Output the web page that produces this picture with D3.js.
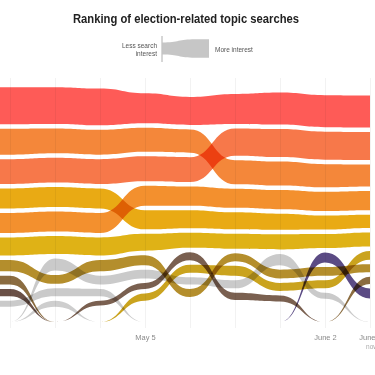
<!DOCTYPE html>
<html>
<head>
<meta charset="utf-8">
<script src="https://cdnjs.cloudflare.com/ajax/libs/d3/7.8.5/d3.min.js"></script>
<style>
  body { margin: 0; background: #fff; }
  svg { display: block; font-family: "Liberation Sans Narrow", "Liberation Sans", sans-serif; }
</style>
</head>
<body>
<div id="chart"></div>
<script>
// weekly snapshots (first one sits left of the visible area)
const weeks = ["2024-04-07", "2024-04-14", "2024-04-21", "2024-04-28", "2024-05-05",
  "2024-05-12", "2024-05-19", "2024-05-26", "2024-06-02", "2024-06-09"];

const topics = ["topic01", "topic02", "topic03", "topic04", "topic05", "topic06",
  "topic07", "topic08", "topic09", "topic10", "topic11", "topic12", "topic13", "topic14", "topic15"];

// rank per week, 0 = outside the top ten
const ranks = [
  [1, 1, 1, 1, 1, 1, 1, 1, 1, 1],
  [2, 2, 2, 2, 2, 2, 3, 3, 3, 3],
  [3, 3, 3, 3, 3, 3, 2, 2, 2, 2],
  [4, 4, 4, 4, 5, 5, 5, 5, 5, 5],
  [5, 5, 5, 5, 4, 4, 4, 4, 4, 4],
  [6, 6, 6, 6, 6, 6, 6, 6, 6, 6],
  [7, 7, 8, 7, 7, 10, 7, 8, 8, 8],
  [8, 8, 0, 0, 0, 0, 0, 0, 0, 9],
  [9, 9, 0, 0, 0, 0, 0, 0, 0, 0],
  [0, 0, 7, 8, 8, 9, 9, 7, 10, 0],
  [10, 10, 9, 9, 0, 0, 0, 0, 0, 0],
  [0, 0, 10, 0, 0, 0, 0, 0, 0, 0],
  [0, 0, 0, 10, 9, 7, 10, 10, 0, 0],
  [0, 0, 0, 0, 10, 8, 8, 9, 9, 7],
  [0, 0, 0, 0, 0, 0, 0, 0, 7, 10]
];

// search interest per week
const interest = [
  [92, 92, 92, 92, 75, 70, 75, 80, 80, 80],
  [65, 65, 62, 62, 60, 58, 60, 60, 58, 55],
  [62, 62, 62, 62, 62, 62, 68, 70, 70, 70],
  [50, 50, 50, 50, 48, 45, 42, 40, 35, 33],
  [50, 50, 50, 50, 50, 48, 48, 48, 48, 48],
  [45, 45, 45, 45, 42, 38, 38, 38, 35, 35],
  [28, 28, 22, 28, 25, 20, 20, 22, 22, 20],
  [22, 22, 0, 0, 0, 0, 0, 0, 0, 18],
  [18, 18, 0, 0, 0, 0, 0, 0, 0, 0],
  [0, 0, 30, 22, 22, 18, 20, 28, 15, 0],
  [15, 15, 20, 18, 0, 0, 0, 0, 0, 0],
  [0, 0, 15, 0, 0, 0, 0, 0, 0, 0],
  [0, 0, 0, 12, 15, 20, 18, 15, 0, 0],
  [0, 0, 0, 0, 18, 20, 25, 20, 20, 22],
  [0, 0, 0, 0, 0, 0, 0, 0, 25, 25]
];

const tickDates = ["2024-05-05", "2024-06-02", "2024-06-09"];
const tickLabels = ["May 5", "June 2", "June 9"];

// legend wedge: thin on the left, thick on the right
const legendInterest = [30, 46, 46];

const colors = ["#fe5b57", "#f4873a", "#f7784a", "#e9aa14", "#f3902e", "#dfb216",
  "#b48e2c", "#8b6c40", "#6a5046", "#cacaca", "#cacaca", "#cecece", "#7a6050", "#caa31e", "#5b4b84"];

const width = 375;
const height = 375;
const gap = 4.5;
const center = 197;
const offY = 322;

const parseTime = d3.timeParse("%Y-%m-%d");
const dates = weeks.map(parseTime);

const svg = d3.select("#chart").append("svg")
  .attr("width", width)
  .attr("height", height);

const x = d3.scaleTime().domain(d3.extent(dates)).range([-35, 370]);
const thick = d3.scaleLinear().domain([0, 100]).range([0, 40]);

// grid lines, one per week
const grid = svg.append("g")
  .attr("transform", "translate(0,328)")
  .call(d3.axisBottom(x).tickValues(dates).tickSize(-250).tickFormat(""));
grid.select(".domain").remove();
grid.selectAll("line").attr("stroke", "#ececec").attr("stroke-width", 0.7);

// stack the ranked topics around a centre line for every week
const layout = topics.map(() => []);
dates.forEach((d, w) => {
  const active = d3.range(topics.length)
    .filter(i => ranks[i][w] > 0)
    .sort((a, b) => ranks[a][w] - ranks[b][w]);
  const total = d3.sum(active, i => thick(interest[i][w])) + gap * (active.length - 1);
  let y = center - total / 2;
  topics.forEach((t, i) => { layout[i][w] = { date: d, y0: offY, y1: offY }; });
  active.forEach(i => {
    const h = thick(interest[i][w]);
    layout[i][w] = { date: d, y0: y, y1: y + h };
    y += h + gap;
  });
});

const area = d3.area()
  .defined(d => d.show)
  .x(d => x(d.date))
  .y0(d => d.y0)
  .y1(d => d.y1)
  .curve(d3.curveBumpX);

topics.forEach((t, i) => {
  const pts = layout[i].map((p, w) => ({
    ...p,
    show: ranks[i][w] > 0 || (w > 0 && ranks[i][w - 1] > 0) || (w < weeks.length - 1 && ranks[i][w + 1] > 0)
  }));
  svg.append("path")
    .datum(pts)
    .attr("fill", colors[i])
    .style("mix-blend-mode", "multiply")
    .attr("d", area);
});

// date labels
const labels = svg.append("g")
  .attr("transform", "translate(0,332)")
  .call(d3.axisBottom(x).tickValues(tickDates.map(parseTime)).tickSize(0)
    .tickFormat((d, i) => tickLabels[i]));
labels.select(".domain").remove();
labels.selectAll("text")
  .attr("font-family", "'Liberation Sans Narrow', 'Liberation Sans', sans-serif")
  .style("font-size", "7.5px")
  .attr("fill", "#8a8a8a");

svg.append("text")
  .attr("x", x(dates[dates.length - 1]) + 2)
  .attr("y", 349)
  .attr("text-anchor", "middle")
  .style("font-size", "6.5px")
  .attr("fill", "#aaa")
  .text("now");

// title
svg.append("text")
  .attr("x", 186)
  .attr("y", 23)
  .attr("text-anchor", "middle")
  .attr("textLength", 226)
  .attr("lengthAdjust", "spacingAndGlyphs")
  .style("font-size", "12.5px")
  .style("font-weight", "bold")
  .attr("fill", "#222")
  .text("Ranking of election-related topic searches");

// legend
const lx = d3.scaleLinear().domain([0, 1, 2]).range([162.5, 195, 209]);
svg.append("path")
  .datum(legendInterest)
  .attr("fill", "#c6c6c6")
  .attr("d", d3.area()
    .x((d, i) => lx(i))
    .y0(d => 48.5 - thick(d) / 2)
    .y1(d => 48.5 + thick(d) / 2)
    .curve(d3.curveBumpX));

svg.append("line")
  .attr("x1", 162).attr("x2", 162)
  .attr("y1", 36).attr("y2", 62)
  .attr("stroke", "#999").attr("stroke-width", 0.8);

svg.append("text")
  .attr("x", 157).attr("y", 48)
  .attr("text-anchor", "end")
  .style("font-size", "6.5px")
  .attr("fill", "#555")
  .text("Less search");
svg.append("text")
  .attr("x", 157).attr("y", 55.5)
  .attr("text-anchor", "end")
  .style("font-size", "6.5px")
  .attr("fill", "#555")
  .text("interest");
svg.append("text")
  .attr("x", 215).attr("y", 52)
  .style("font-size", "6.5px")
  .attr("fill", "#555")
  .text("More interest");
</script>
</body>
</html>
